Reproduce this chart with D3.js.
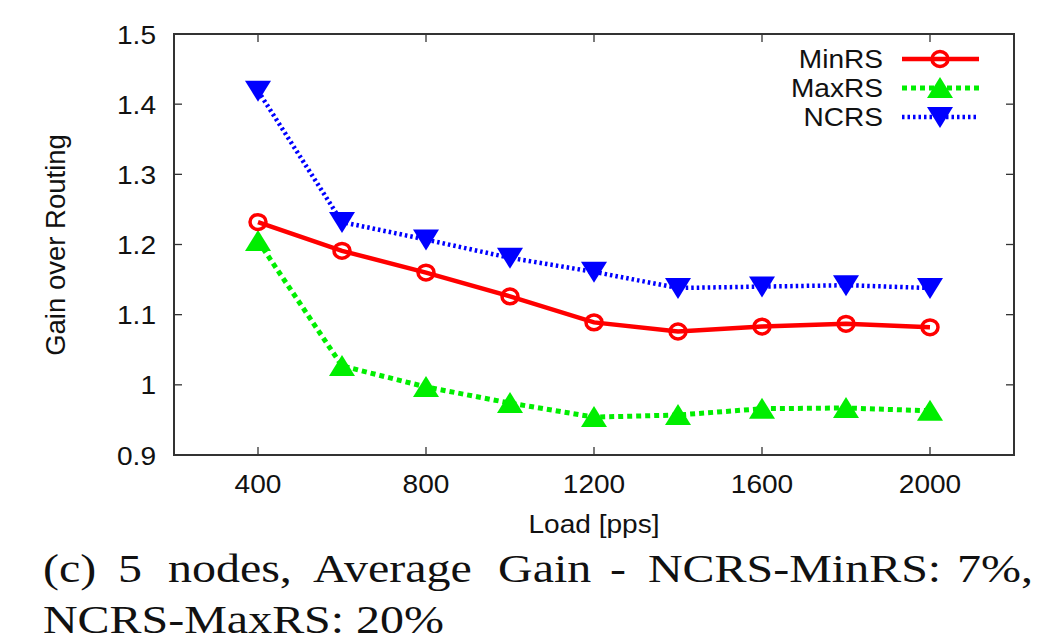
<!DOCTYPE html>
<html><head><meta charset="utf-8">
<script src="https://cdn.jsdelivr.net/npm/d3@7"></script>
<style>body{margin:0;background:#fff;}svg{display:block;}</style>
</head><body>
<script>
const loads = [400, 600, 800, 1000, 1200, 1400, 1600, 1800, 2000];
const minRS = [1.232, 1.191, 1.160, 1.126, 1.089, 1.076, 1.083, 1.087, 1.082];
const maxRS = [1.205, 1.027, 0.997, 0.974, 0.954, 0.957, 0.966, 0.967, 0.963];
const ncrs  = [1.419, 1.232, 1.207, 1.181, 1.161, 1.138, 1.140, 1.142, 1.138];
const xTicks = [400, 800, 1200, 1600, 2000];
const yTicks = [0.9, 1, 1.1, 1.2, 1.3, 1.4, 1.5];
const seriesNames = ["MinRS", "MaxRS", "NCRS"];
const captionLine1 = ["(c)", "5", "nodes,", "Average", "Gain", "-", "NCRS-MinRS:", "7%,"];
const captionLine2 = "NCRS-MaxRS: 20%";

const W = 1037, H = 641;
const m = {l: 174, r: 1014, t: 34, b: 455};
const svg = d3.select("body").append("svg").attr("width", W).attr("height", H);
const x = d3.scaleLinear().domain([200, 2200]).range([m.l, m.r]);
const y = d3.scaleLinear().domain([0.9, 1.5]).range([m.b, m.t]);
const axisColor = "#333";
const font = "'Liberation Sans', Arial, sans-serif";
const SX = 1.08;

function label(parent, tx, ty, txt, anchor, size) {
  return parent.append("text")
    .attr("transform", `translate(${tx},${ty}) scale(${SX},1)`)
    .attr("text-anchor", anchor).attr("font-family", font).attr("font-size", size || 26)
    .attr("fill", "#111").text(txt);
}

// ticks (mirrored, inward)
const tl = 8;
const g = svg.append("g");
xTicks.forEach(v => {
  g.append("line").attr("x1", x(v)).attr("x2", x(v)).attr("y1", m.b).attr("y2", m.b - tl).attr("stroke", axisColor).attr("stroke-width", 1.3);
  g.append("line").attr("x1", x(v)).attr("x2", x(v)).attr("y1", m.t).attr("y2", m.t + tl).attr("stroke", axisColor).attr("stroke-width", 1.3);
  label(g, x(v), 493, v, "middle");
});
yTicks.forEach(v => {
  g.append("line").attr("x1", m.l).attr("x2", m.l + tl).attr("y1", y(v)).attr("y2", y(v)).attr("stroke", axisColor).attr("stroke-width", 1.3);
  g.append("line").attr("x1", m.r).attr("x2", m.r - tl).attr("y1", y(v)).attr("y2", y(v)).attr("stroke", axisColor).attr("stroke-width", 1.3);
  label(g, 156, y(v) + 9.5, d3.format("")(v), "end");
});
g.append("rect").attr("x", m.l).attr("y", m.t).attr("width", m.r - m.l).attr("height", m.b - m.t)
  .attr("fill", "none").attr("stroke", axisColor).attr("stroke-width", 2);

// axis titles
label(svg, (m.l + m.r) / 2, 533, "Load [pps]", "middle");
svg.append("text").attr("transform", `translate(65,245) rotate(-90)`).attr("text-anchor", "middle")
  .attr("font-family", font).attr("font-size", 27.5).attr("fill", "#111").text("Gain over Routing");

const styles = [
  {name: seriesNames[0], data: minRS, color: "#ff0000", dash: null, width: 4.5, marker: "circle"},
  {name: seriesNames[1], data: maxRS, color: "#00ee00", dash: "5,4", width: 5, marker: "up"},
  {name: seriesNames[2], data: ncrs, color: "#0000ff", dash: "2.5,3", width: 4.5, marker: "down"}
];
const line = d3.line().x(d => x(d[0])).y(d => y(d[1]));
const triPath = "M0,-11L13,10L-13,10Z";
function drawMarker(sel, cx, cy, s) {
  if (s.marker === "circle") {
    sel.append("ellipse").attr("cx", cx).attr("cy", cy).attr("rx", 8).attr("ry", 7.4)
      .attr("fill", "none").attr("stroke", s.color).attr("stroke-width", 3.5);
  } else {
    sel.append("path").attr("d", triPath)
      .attr("transform", `translate(${cx},${cy}) scale(1,${s.marker === "down" ? -1 : 1})`)
      .attr("fill", s.color);
  }
}
styles.slice().reverse().forEach(s => {
  const pts = loads.map((l, i) => [l, s.data[i]]);
  svg.append("path").attr("d", line(pts)).attr("fill", "none").attr("stroke", s.color)
    .attr("stroke-width", s.width).attr("stroke-dasharray", s.dash);
  const mg = svg.append("g");
  pts.forEach(p => drawMarker(mg, x(p[0]), y(p[1]), s));
});

// legend
styles.forEach((s, i) => {
  const ly = 59 + i * 29;
  label(svg, 883, ly + 9, s.name, "end");
  svg.append("line").attr("x1", 902).attr("x2", 979).attr("y1", ly).attr("y2", ly)
    .attr("stroke", s.color).attr("stroke-width", s.width).attr("stroke-dasharray", s.dash);
  drawMarker(svg, 940, ly, s);
});

// caption (justified first line)
const CSX = 1.23;
const cap = svg.append("g").attr("transform", `scale(${CSX},1)`)
  .attr("font-family", "'Liberation Serif', 'Times New Roman', serif").attr("font-size", 39).attr("fill", "#111");
const wordX = [43, 118, 168, 313, 498, 610, 648, 957];
const t1 = cap.append("text").attr("y", 582);
captionLine1.forEach((w, i) => t1.append("tspan").attr("x", wordX[i] / CSX).text(w + (i < captionLine1.length - 1 ? " " : "")));
cap.append("text").attr("x", 43 / CSX).attr("y", 633).text(captionLine2);
</script>
</body></html>
